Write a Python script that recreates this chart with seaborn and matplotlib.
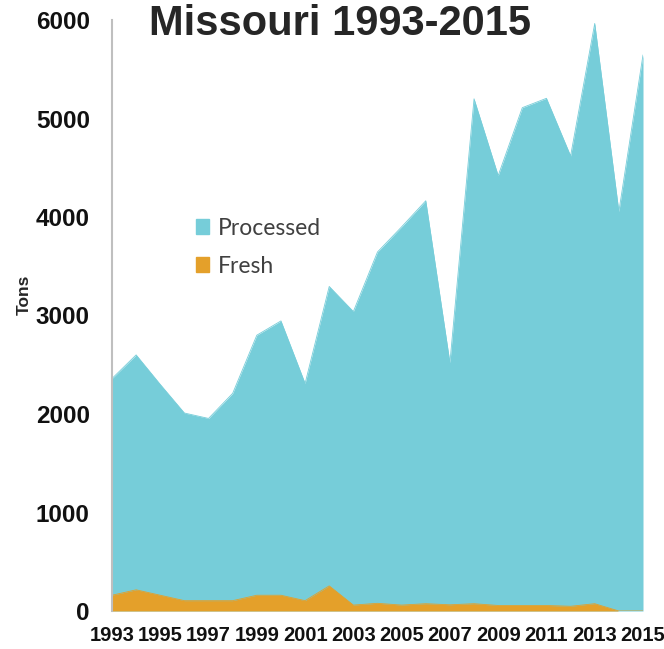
import numpy as np
import pandas as pd
import matplotlib
matplotlib.use("Agg")
import matplotlib.pyplot as plt
import seaborn as sns
from matplotlib.patches import Patch

# Missouri tonnage
years = list(range(1993, 2016))
processed = [2360, 2600, 2300, 2010, 1955, 2210, 2800, 2945, 2310, 3295, 3040, 3645,
             3900, 4165, 2520, 5200, 4420, 5110, 5205, 4620, 5965, 4055, 5645]
fresh = [160, 215, 160, 105, 105, 105, 160, 160, 105, 255, 60, 78,
         60, 74, 63, 74, 56, 56, 56, 48, 74, 0, 0]
tick_years = list(range(1993, 2016, 2))
y_ticks = [0, 1000, 2000, 3000, 4000, 5000, 6000]

df = pd.DataFrame({"Year": years, "Processed": processed, "Fresh": fresh})

teal = "#76CDD9"
orange = "#E4A02A"

sns.set_theme(style="white")
plt.rcParams["font.family"] = ["Liberation Sans", "DejaVu Sans"]

fig = plt.figure(figsize=(6.64, 6.49), dpi=100)
ax = fig.add_axes([112 / 664, 1 - 611 / 649, (643 - 112) / 664, (611 - 20) / 649])

# areas (not stacked, processed behind fresh)
ax.fill_between(df["Year"], 0, df["Processed"], color=teal, linewidth=0)
sns.lineplot(data=df, x="Year", y="Processed", color=teal, linewidth=0.6, ax=ax)
ax.fill_between(df["Year"], 0, df["Fresh"], color=orange, linewidth=0)
sns.lineplot(data=df, x="Year", y="Fresh", color=orange, linewidth=0.6, ax=ax)

ax.set_xlim(1993, 2015)
ax.set_ylim(0, 6000)
ax.set_xticks(tick_years)
ax.set_xticklabels([str(y) for y in tick_years], fontsize=14.5, fontweight="bold")
ax.set_yticks(y_ticks)
ax.set_yticklabels([str(v) for v in y_ticks], fontsize=17.5, fontweight="bold")
ax.tick_params(axis="x", length=0, pad=11, colors="#111111")
ax.tick_params(axis="y", length=0, pad=16, colors="#111111")
ax.set_xlabel("")
ax.set_ylabel("")

for s in ["top", "right", "bottom"]:
    ax.spines[s].set_visible(False)
ax.spines["left"].set_color("#BFBFBF")
ax.spines["left"].set_linewidth(1.5)

fig.text(24 / 664, 1 - 295 / 649, "Tons", rotation=90, fontsize=12.5,
         fontweight="bold", ha="center", va="center")
fig.text(340 / 664, 1 - 24 / 649, "Missouri 1993-2015", fontsize=30,
         fontweight="bold", ha="center", va="center")

handles = [Patch(color=teal, label="Processed"), Patch(color=orange, label="Fresh")]
leg = fig.legend(handles=handles, loc="upper left", bbox_to_anchor=(175 / 664, 1 - 197 / 649),
                 frameon=False, handlelength=0.6, handleheight=0.6, handletextpad=0.35,
                 labelspacing=0.75, prop={"family": "Lato", "size": 16.5})
for t in leg.get_texts():
    t.set_color("#404040")

fig.savefig("out.png", dpi=100)
